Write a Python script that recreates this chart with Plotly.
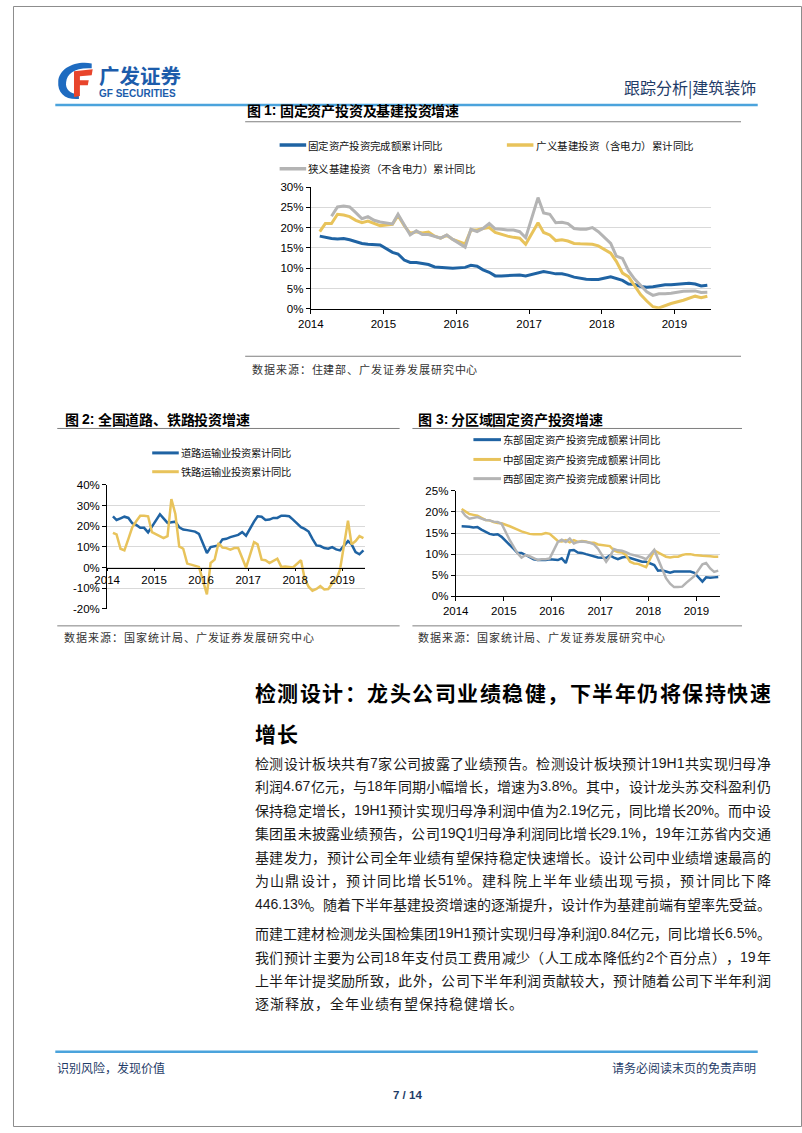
import re
import plotly.graph_objects as go

W, H = 802, 1133


def px(x):
    return x / W


def py(y):
    return 1 - y / H


# ---------------- data ----------------
months = [f"{y}-{m:02d}-15" for y in range(2014, 2020) for m in range(2, 13)
          if not (y == 2019 and m > 6)]
year_ticks = [f"{y}-01-01" for y in range(2014, 2020)]
year_labels = ["2014", "2015", "2016", "2017", "2018", "2019"]

# Figure 1 (%), Feb..Dec each year, 2019 Feb..Jun
fai_total = [17.9, 17.6, 17.3, 17.2, 17.3, 17.0, 16.5, 16.1, 15.9, 15.8, 15.7,
             13.9, 13.5, 12.0, 11.4, 11.4, 11.2, 10.9, 10.3, 10.2, 10.2, 10.0,
             10.2, 10.7, 10.5, 9.6, 9.0, 8.1, 8.1, 8.2, 8.3, 8.3, 8.1,
             8.9, 9.2, 8.9, 8.6, 8.6, 8.3, 7.8, 7.5, 7.3, 7.2, 7.2,
             7.9, 7.5, 7.0, 6.1, 6.0, 5.5, 5.3, 5.4, 5.7, 5.9, 5.9,
             6.1, 6.3, 6.1, 5.6, 5.8]
infra_broad = [19.0, 21.0, 21.0, 23.3, 23.1, 22.7, 21.8, 21.2, 21.6, 21.0, 20.5,
               20.8, 23.0, 20.5, 18.6, 19.0, 18.7, 18.9, 17.9, 17.4, 18.1, 17.1,
               16.0, 19.4, 19.4, 19.8, 20.0, 18.8, 18.3, 17.9, 17.6, 17.4, 15.9,
               21.2, 18.8, 18.2, 16.8, 17.0, 16.7, 16.1, 16.0, 16.0, 15.9, 15.5,
               13.7, 11.7, 8.8, 7.9, 5.5, 3.5, 1.9, 0.5, 0.2, 0.8, 1.3,
               2.1, 2.6, 3.1, 2.7, 3.1]
infra_narrow = [None, None, 22.8, 25.1, 25.3, 25.1, 23.7, 22.2, 22.7, 21.8, 21.4,
                20.9, 23.3, 20.6, 18.2, 19.2, 18.3, 18.3, 17.8, 17.4, 18.2, 17.1,
                15.2, 19.6, 19.0, 19.8, 21.0, 19.7, 19.6, 19.4, 19.4, 19.0, 17.5,
                27.4, 23.6, 23.3, 21.2, 21.3, 21.0, 19.8, 19.6, 19.6, 20.0, 19.0,
                16.1, 13.0, 12.4, 9.4, 7.3, 5.7, 4.2, 3.3, 3.7, 3.7, 3.8,
                4.3, 4.4, 4.4, 4.0, 4.1]

# Figure 2 (%)
road_inv = [24.8, 23.0, 23.8, 24.6, 24.0, 21.4, 20.6, 19.2, 19.2, 17.0, 19.8,
            25.8, 23.8, 21.6, 21.9, 22.2, 19.5, 18.4, 18.1, 17.9, 17.4, 16.3,
            7.0, 9.9, 10.4, 10.7, 13.6, 13.9, 14.7, 15.2, 15.8, 17.1, 15.4,
            22.2, 24.8, 24.6, 23.0, 23.2, 24.0, 24.0, 25.1, 25.1, 24.8, 23.2,
            19.5, 18.7, 17.4, 13.9, 10.7, 10.4, 9.4, 9.1, 9.9, 8.8, 8.3,
            12.8, 11.2, 7.5, 6.4, 8.3]
rail_inv = [16.8, 16.0, 9.1, 8.3, 13.9, 19.5, 22.4, 25.1, 25.1, 24.8, 17.1,
            15.2, 14.2, 15.2, 33.1, 25.9, 10.2, 9.1, 1.9, 1.4, 1.0, 0.3,
            -13.0, 2.2, 3.8, 11.8, 9.6, 9.4, 8.6, 9.4, 9.4, 4.3, 0.0,
            12.3, 11.2, 3.8, 3.5, 2.2, 3.2, 4.3, 0.3, 0.5, 0.3, 0.0,
            3.5, -5.3, -9.3, -11.2, -10.4, -9.0, -10.6, -10.4, -7.7, -6.1, -1.0,
            22.7, 11.2, 12.8, 15.2, 14.2]

# Figure 3 (%)
east_fai = [16.6, 16.6, 16.5, 16.3, 16.4, 15.8, 15.2, 14.8, 14.6, 14.7, 14.1,
            12.3, 11.3, 10.3, 10.3, 9.8, 9.4, 8.8, 8.6, 8.6, 8.6, 8.8,
            8.6, 9.0, 7.9, 10.9, 11.0, 10.4, 10.3, 10.0, 9.7, 9.5, 9.2,
            9.1, 9.7, 9.2, 8.8, 9.2, 9.4, 9.1, 8.8, 8.4, 8.2, 8.2,
            7.4, 6.1, 6.2, 5.9, 5.6, 5.9, 5.9, 5.9, 5.9, 5.9, 5.6,
            3.5, 4.5, 4.4, 4.5, 4.6]
central_fai = [20.7, 20.2, 19.5, 19.3, 19.1, 18.6, 18.1, 18.0, 17.6, 17.4, 17.3,
               16.6, 16.3, 15.8, 15.4, 15.1, 14.8, 14.7, 14.7, 14.7, 15.0, 14.8,
               13.1, 13.0, 13.3, 12.8, 13.3, 12.9, 13.1, 13.0, 12.7, 12.7, 12.3,
               12.1, 11.9, 10.9, 10.5, 10.4, 9.8, 8.2, 7.8, 7.7, 7.3, 6.9,
               10.9, 10.5, 9.9, 9.4, 9.2, 9.4, 9.4, 9.8, 10.0, 10.0, 9.8,
               9.6, 9.6, 9.5, 9.4, 9.4]
west_fai = [20.3, 19.1, 18.4, 18.6, 18.8, 18.4, 18.1, 18.0, 17.7, 17.6, 17.2,
            13.3, 11.7, 10.2, 9.2, 9.8, 9.5, 9.0, 8.6, 8.8, 8.8, 9.0,
            12.9, 13.4, 12.9, 13.7, 12.5, 12.9, 13.0, 12.9, 12.7, 12.3, 11.3,
            8.2, 9.4, 11.2, 10.9, 10.8, 10.5, 10.0, 9.8, 9.5, 9.2, 8.8,
            11.0, 9.0, 6.5, 4.3, 3.0, 2.2, 2.2, 2.3, 3.2, 4.0, 4.8,
            7.6, 7.9, 6.6, 5.8, 6.1]

fig1_yticks = [0, 5, 10, 15, 20, 25, 30]
fig2_yticks = [-20, -10, 0, 10, 20, 30, 40]
fig3_yticks = [0, 5, 10, 15, 20, 25]

fig1_names = ["固定资产投资完成额累计同比", "广义基建投资（含电力）累计同比", "狭义基建投资（不含电力）累计同比"]
fig2_names = ["道路运输业投资累计同比", "铁路运输业投资累计同比"]
fig3_names = ["东部固定资产投资完成额累计同比", "中部固定资产投资完成额累计同比", "西部固定资产投资完成额累计同比"]

heading_lines = ["检测设计：龙头公司业绩稳健，下半年仍将保持快速", "增长"]
para1_lines = [
    "检测设计板块共有7家公司披露了业绩预告。检测设计板块预计19H1共实现归母净",
    "利润4.67亿元，与18年同期小幅增长，增速为3.8%。其中，设计龙头苏交科盈利仍",
    "保持稳定增长，19H1预计实现归母净利润中值为2.19亿元，同比增长20%。而中设",
    "集团虽未披露业绩预告，公司19Q1归母净利润同比增长29.1%，19年江苏省内交通",
    "基建发力，预计公司全年业绩有望保持稳定快速增长。设计公司中业绩增速最高的",
    "为山鼎设计，预计同比增长51%。建科院上半年业绩出现亏损，预计同比下降",
    "446.13%。随着下半年基建投资增速的逐渐提升，设计作为基建前端有望率先受益。",
]
para2_lines = [
    "而建工建材检测龙头国检集团19H1预计实现归母净利润0.84亿元，同比增长6.5%。",
    "我们预计主要为公司18年支付员工费用减少（人工成本降低约2个百分点），19年",
    "上半年计提奖励所致，此外，公司下半年利润贡献较大，预计随着公司下半年利润",
    "逐渐释放，全年业绩有望保持稳健增长。",
]

# ---------------- styles ----------------
BLUE = "#1F63A3"
GOLD = "#E8C35B"
GREY = "#B4B4B4"
NAVY = "#1F3C68"
CJK = "Noto Sans CJK SC"
LATIN = "Liberation Sans"

ASCII_EM = {str(d): 0.556 for d in range(10)}
ASCII_EM.update({".": 0.278, "%": 0.889, "H": 0.722, "Q": 0.778, " ": 0.278,
                 ":": 0.278, ",": 0.278, "/": 0.278})


def tokens(text):
    return re.findall(r"[\x20-\x7e]+|[^\x20-\x7e]", text)


def tok_width(t, size):
    if ord(t[0]) < 128:
        return sum(ASCII_EM.get(c, 0.6) for c in t) * size
    return size


annotations = []
shapes = []


def text_run(text, x0, yc, size, color="#111111", x1=None, gap=0.0, bold=False):
    toks = tokens(text)
    ws = [tok_width(t, size) for t in toks]
    if x1 is not None and len(toks) > 1:
        gap = (x1 - x0 - sum(ws)) / (len(toks) - 1)
    x = x0
    for t, w in zip(toks, ws):
        latin = ord(t[0]) < 128
        content = t.strip()
        if content:
            lead = len(t) - len(t.lstrip())
            cw = tok_width(content, size) if latin else w
            cx = x + lead * 0.278 * size + cw / 2
            s = f"<b>{content}</b>" if bold else content
            annotations.append(dict(
                text=s, x=px(cx), y=py(yc), xref="paper", yref="paper",
                xanchor="center", yanchor="middle", showarrow=False,
                font=dict(family=LATIN if latin else CJK, size=size, color=color)))
        x += w + gap
    return gap


def label(text, x, y, size, color="#111111", anchor="left", family=CJK):
    annotations.append(dict(text=text, x=px(x), y=py(y), xref="paper", yref="paper",
                            xanchor=anchor, yanchor="middle", showarrow=False,
                            font=dict(family=family, size=size, color=color)))


def hline(x0, x1, y, color, width):
    shapes.append(dict(type="line", xref="paper", yref="paper", x0=px(x0), x1=px(x1),
                       y0=py(y), y1=py(y), line=dict(color=color, width=width)))


def ppath(s):
    def rep(m):
        return f"{px(float(m.group(1))):.5f},{py(float(m.group(2))):.5f}"
    return re.sub(r"(-?\d+\.?\d*),(-?\d+\.?\d*)", rep, s)


# ---------------- figure ----------------
fig = go.Figure()

for vals, col in [(fai_total, BLUE), (infra_broad, GOLD), (infra_narrow, GREY)]:
    fig.add_trace(go.Scatter(x=months, y=vals, mode="lines", line=dict(color=col, width=3),
                             xaxis="x", yaxis="y", showlegend=False, hoverinfo="skip"))
for vals, col in [(road_inv, BLUE), (rail_inv, GOLD)]:
    fig.add_trace(go.Scatter(x=months, y=vals, mode="lines", line=dict(color=col, width=2.5),
                             xaxis="x2", yaxis="y2", showlegend=False, hoverinfo="skip"))
for vals, col in [(east_fai, BLUE), (central_fai, GOLD), (west_fai, GREY)]:
    fig.add_trace(go.Scatter(x=months, y=vals, mode="lines", line=dict(color=col, width=2.5),
                             xaxis="x3", yaxis="y3", showlegend=False, hoverinfo="skip"))

tickfont = dict(family=LATIN, size=11.5, color="#000000")
xcommon = dict(type="date", range=["2014-01-01", "2019-07-01"], tickvals=year_ticks,
               ticktext=year_labels, ticks="outside", ticklen=4, tickcolor="#000000",
               showline=True, linecolor="#000000", linewidth=1, showgrid=False,
               zeroline=False, tickfont=tickfont)
ycommon = dict(showgrid=True, gridcolor="#D9D9D9", gridwidth=1,
               showline=True, linecolor="#000000", linewidth=1, ticks="outside",
               ticklen=4, tickcolor="#000000", zeroline=False, tickfont=tickfont)


def pct(vals):
    return [f"{v}%" for v in vals]


fig.update_layout(
    width=W, height=H, autosize=False,
    margin=dict(l=0, r=0, t=0, b=0, pad=0),
    paper_bgcolor="#FFFFFF", plot_bgcolor="rgba(0,0,0,0)",
    showlegend=False,
    xaxis=dict(xcommon, domain=[px(302.7), px(709)], anchor="y"),
    yaxis=dict(ycommon, domain=[py(306), py(183)], range=[0, 30],
               tickvals=fig1_yticks, ticktext=pct(fig1_yticks), anchor="x"),
    xaxis2=dict(xcommon, domain=[px(95.7), px(358.3)], anchor="free", position=py(567.6),
                ticklen=2),
    yaxis2=dict(ycommon, domain=[py(609.3), py(484)], range=[-20, 40],
                tickvals=fig2_yticks, ticktext=pct(fig2_yticks), anchor="x2"),
    xaxis3=dict(xcommon, domain=[px(450), px(719)], anchor="y3"),
    yaxis3=dict(ycommon, domain=[py(596.7), py(490)], range=[0, 25],
                tickvals=fig3_yticks, ticktext=pct(fig3_yticks), anchor="x3"),
)

# ---------- page chrome ----------
shapes.append(dict(type="rect", xref="paper", yref="paper", x0=px(0.5), x1=px(801.5),
                   y0=py(0.5), y1=py(1132.5), line=dict(color="#8C8C8C", width=1)))
# logo
shapes.append(dict(type="path", xref="paper", yref="paper",
                   path=ppath("M 80,58 C 63,55 47,63 46,76 C 45,88 53,95 67,94 L 67,89 "
                              "C 58,89 53,84 54,77 C 55,68 63,62 80,63 Z"),
                   fillcolor="#1E6BC0", line=dict(width=0)))
shapes.append(dict(type="path", xref="paper", yref="paper",
                   path=ppath("M 62,66 L 81,64 L 80,70 L 68,71 L 68,75 L 77,75 L 76,80 "
                              "L 68,80 L 68,91 L 62,92 Z"),
                   fillcolor="#E8452C", line=dict(width=0)))
label("<b>广发证券</b>", 85, 70, 20.5, "#1C5CAB")
label("<b>GF SECURITIES</b>", 85, 88, 10, "#1C5CAB", family=LATIN)
label("跟踪分析|建筑装饰", 757, 82, 16, NAVY, anchor="right")
hline(43, 757, 100, "#4BA3DC", 2.5)

# footer
hline(43, 757, 1057, "#4BA3DC", 2.5)
label("识别风险，发现价值", 43, 1073, 12, NAVY)
label("请务必阅读末页的免责声明", 757, 1073, 12, NAVY, anchor="right")
label("<b>7 / 14</b>", 401, 1101, 11.5, NAVY, anchor="center", family=LATIN)

# ---------- figure 1 frame ----------
text_run("图 1: 固定资产投资及基建投资增速", 238, 105, 14, "#000000", bold=True)
hline(236, 740, 117, "#7F7F7F", 1)
legend1 = [((271, 298, 140.5), BLUE, fig1_names[0], 300, 437),
           ((502, 529, 140.5), GOLD, fig1_names[1], 532, 692),
           ((271, 298, 164.5), GREY, fig1_names[2], 300, 470)]
for (x0, x1, y), col, name, tx0, tx1 in legend1:
    hline(x0, x1, y, col, 3.5)
    text_run(name, tx0, y, 10.5, "#111111", x1=tx1)
hline(236, 740, 354, "#7F7F7F", 1)
text_run("数据来源：住建部、广发证券发展研究中心", 243, 366.5, 11, "#333333", x1=472)

# ---------- figure 2 frame ----------
text_run("图 2: 全国道路、铁路投资增速", 53, 417, 14, "#000000", bold=True)
hline(45, 393, 427, "#7F7F7F", 1)
for (y, col, name) in [(451.7, BLUE, fig2_names[0]), (470.7, GOLD, fig2_names[1])]:
    hline(141.5, 168.5, y, col, 3)
    text_run(name, 171, y, 10.3, "#111111", x1=283)
hline(45, 393, 626.5, "#7F7F7F", 1)
text_run("数据来源：国家统计局、广发证券发展研究中心", 52, 637.5, 11, "#333333", x1=306)

# ---------- figure 3 frame ----------
text_run("图 3: 分区域固定资产投资增速", 412, 417, 14, "#000000", bold=True)
hline(406, 741, 427, "#7F7F7F", 1)
for (y, col, name) in [(438.3, BLUE, fig3_names[0]), (458.3, GOLD, fig3_names[1]),
                       (477.7, GREY, fig3_names[2])]:
    hline(468, 496, y, col, 3)
    text_run(name, 498, y, 10.5, "#111111", x1=658)
hline(406, 741, 626.5, "#7F7F7F", 1)
text_run("数据来源：国家统计局、广发证券发展研究中心", 412, 637.5, 11, "#333333", x1=663)

# ---------- body text ----------
TX0, TX1 = 246, 770
g = text_run(heading_lines[0], TX0, 693, 21, "#000000", x1=TX1, bold=True)
text_run(heading_lines[1], TX0, 735, 21, "#000000", gap=g, bold=True)

BODY = 14
for i, line in enumerate(para1_lines):
    text_run(line, TX0, 765 + i * 23.7, BODY, "#1A1A1A", x1=TX1)
for i, line in enumerate(para2_lines):
    if i < len(para2_lines) - 1:
        text_run(line, TX0, 937 + i * 23.7, BODY, "#1A1A1A", x1=TX1)
    else:
        text_run(line, TX0, 937 + i * 23.7, BODY, "#1A1A1A", gap=1.2)

fig.update_layout(annotations=annotations, shapes=shapes)
fig.write_html("out.html", config={"displayModeBar": False},
               post_script="document.body.style.margin='0';")
